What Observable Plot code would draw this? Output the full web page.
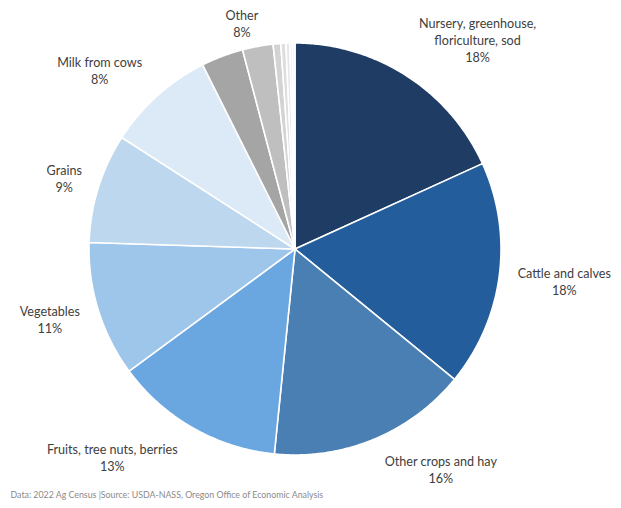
<!DOCTYPE html>
<html><head><meta charset="utf-8">
<script src="https://cdn.jsdelivr.net/npm/d3@7"></script>
<script src="https://cdn.jsdelivr.net/npm/@observablehq/plot@0.6"></script>
<style>
body{margin:0;background:#fff;}
</style>
</head><body><div id="chart"></div>
<script>
// ---- data (shares of Oregon ag sales, %, clockwise from 12 o'clock) ----
const categories = ["Nursery, greenhouse, floriculture, sod","Cattle and calves","Other crops and hay",
  "Fruits, tree nuts, berries","Vegetables","Grains","Milk from cows",
  "Other A","Other B","Other C","Other D","Other E","Other F","Other G"];
const shares = [18.2, 17.7, 15.7, 13.3, 10.6, 8.6, 8.5, 3.3, 2.4, 0.6, 0.4, 0.3, 0.2, 0.2];
const sliceColors = ["#1f3c64","#245d9c","#4a7fb4","#6aa6df","#9ec5ea","#bdd7ee","#dce9f6",
  "#a5a5a5","#bfbfbf","#d3d3d3","#dedede","#e6e6e6","#eeeeee","#f3f3f3"];
// label groups: names, shown percent, and which slices they cover
const labelNames = ["Nursery, greenhouse,\nfloriculture, sod","Cattle and calves","Other crops and hay",
  "Fruits, tree nuts, berries","Vegetables","Grains","Milk from cows","Other"];
const labelPcts = ["18%","18%","16%","13%","11%","9%","8%","8%"];
const labelSlices = [[0],[1],[2],[3],[4],[5],[6],[7,8,9,10,11,12,13]];
const captionText = "Data: 2022 Ag Census |Source: USDA-NASS, Oregon Office of Economic Analysis";

// ---- layout ----
const W = 621, H = 508, CX = 294.5, CY = 248.5, R = 206;
const labelNudge = [[37,-10],[11,3],[44,8],[-41,9],[-15.5,2],[-12,-3],[-27,-9],[-1,-3]];

const total = d3.sum(shares);
const starts = [];
let acc = 0;
for (const s of shares) { starts.push(acc); acc += s; }

// polygon points for each slice (unit radius, angle clockwise from north)
const pts = [];
shares.forEach((s, i) => {
  const a0 = starts[i] / total * 2 * Math.PI, a1 = (starts[i] + s) / total * 2 * Math.PI;
  const n = Math.max(2, Math.ceil((a1 - a0) / (Math.PI / 360)));
  pts.push({k: i, x: 0, y: 0, c: sliceColors[i]});
  for (let j = 0; j <= n; j++) {
    const a = a0 + (a1 - a0) * j / n;
    pts.push({k: i, x: Math.sin(a), y: Math.cos(a), c: sliceColors[i]});
  }
  pts.push({k: i, x: 0, y: 0, c: sliceColors[i]});
});

const labs = labelNames.map((name, i) => {
  const idx = labelSlices[i];
  const s0 = starts[idx[0]];
  const s1 = starts[idx[idx.length - 1]] + shares[idx[idx.length - 1]];
  const a = (s0 + s1) / 2 / total * 2 * Math.PI;
  const text = name + "\n" + labelPcts[i];
  const lines = text.split("\n");
  const w = d3.max(lines, l => l.length) * 5.7, h = lines.length * 17;
  const px = (R + 6) * Math.sin(a) + w / 2 * Math.sin(a) + labelNudge[i][0];
  const py = (R + 6) * Math.cos(a) + h / 2 * Math.cos(a) - labelNudge[i][1];
  return {text, x: px / R, y: py / R};
});

const chart = Plot.plot({
  width: W, height: H, margin: 0,
  x: {domain: [-CX / R, (W - CX) / R], axis: null},
  y: {domain: [-(H - CY) / R, CY / R], axis: null},
  color: {type: "identity"},
  style: {fontFamily: "Lato, sans-serif", background: "#fff"},
  marks: [
    Plot.line(pts, {x: "x", y: "y", z: "k", fill: "c", stroke: "white", strokeWidth: 1.6, strokeLinejoin: "round"}),
    Plot.text(labs, {x: "x", y: "y", text: "text", fontSize: 12.6, lineHeight: 1.35, fill: "#404040", textAnchor: "middle", lineAnchor: "middle"}),
    Plot.text([captionText], {text: d => d, frameAnchor: "bottom-left", dx: 10, dy: -11, fontSize: 8.8, fill: "#8a8a8a", textAnchor: "start"})
  ]
});
document.getElementById("chart").append(chart);
</script>
</body></html>
